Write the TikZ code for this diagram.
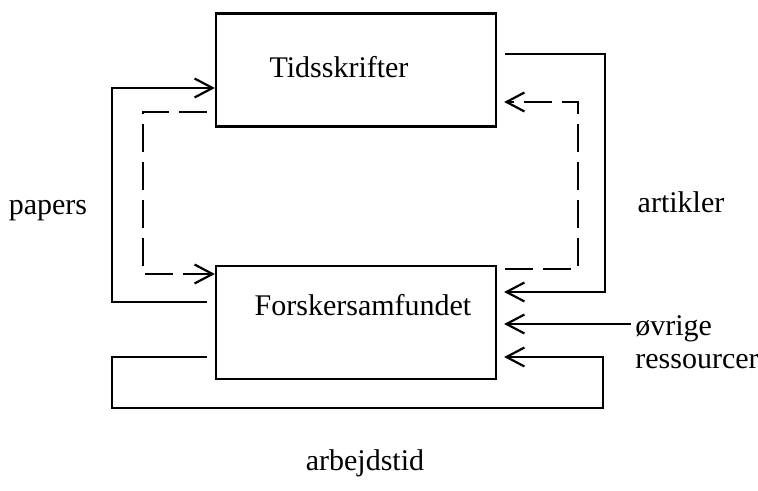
\documentclass[tikz,border=0pt]{standalone}
\usepackage{fontspec}
\setmainfont{Liberation Serif}
\usepackage{tikz}
\usetikzlibrary{arrows.meta,positioning}

\begin{document}
\begin{tikzpicture}[
    x=0.5pt, y=-0.5pt,
    font=\fontsize{15}{14}\selectfont,
    box/.style={draw, line width=1.1pt, minimum width=140pt, minimum height=56.5pt, inner sep=0pt},
    lbl/.style={inner sep=2pt},
    arr/.style={-{Straight Barb[length=9pt, width=9.5pt]}, line width=1.1pt, shorten <=4pt},
    darr/.style={arr, dash pattern=on 14pt off 5pt}
  ]
    \useasboundingbox (0,0) rectangle (758,491);
    % the two boxes
    \node[box] (tids) at (356,70) {};
    \node[box, below=68.5pt of tids] (forsk) {};
    \node[lbl, anchor=base] (tids-txt) at (339,78) {Tidsskrifter};
    \node[lbl, anchor=base] (forsk-txt) at (363,315) {Forskersamfundet};
    % labels
    \node[lbl, anchor=base] (papers) at (48,215) {papers};
    \node[lbl, anchor=base] (artikler) at (681,213) {artikler};
    \node[lbl, anchor=north west, align=left] (res) at (631,311) {øvrige\\[2.5pt]ressourcer};
    \node[lbl, anchor=base] (arbejd) at (365,470) {arbejdstid};
    % left side
    \draw[arr] (forsk.west |- 0,302) -- (112,302) -- (112,88) -- (tids.west |- 0,88);
    \draw[darr] (tids.west |- 0,112) -- (143,112) -- (143,274) -- (forsk.west |- 0,274);
    % right side
    \draw[arr, shorten >=3.5pt] (tids.east |- 0,54) -- (605,54) -- (605,292) -- (forsk.east |- 0,292);
    \draw[darr, shorten >=3.5pt] (forsk.east |- 0,269) -- (578,269) -- (578,102) -- (tids.east |- 0,102);
    \draw[arr, shorten >=3.5pt, shorten <=0pt] (res.west |- 0,324) -- (forsk.east |- 0,324);
    % bottom loop
    \draw[arr, shorten >=3.5pt] (forsk.west |- 0,357) -- (112,357) -- (112,408) -- (603,408) -- (603,357) -- (forsk.east |- 0,357);
  \end{tikzpicture}
\end{document}
